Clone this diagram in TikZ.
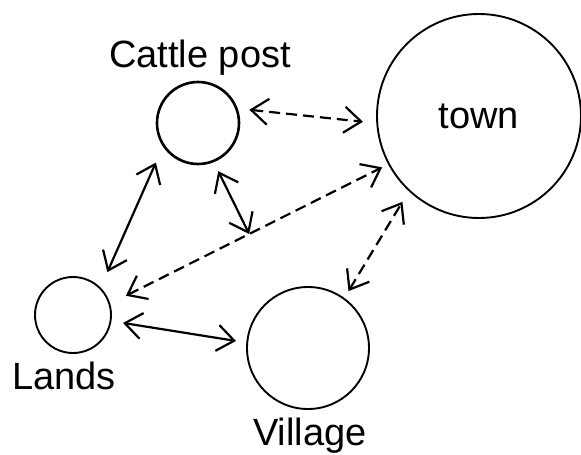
\documentclass[tikz,border=0pt]{standalone}
\usepackage{fontspec}
\setmainfont{Liberation Sans}
\usetikzlibrary{arrows.meta,calc}
\tikzset{
	spot/.style={draw, circle, inner sep=0pt, line width=1.9pt},
	road/.style={line width=2.2pt, {Straight Barb[length=17pt,width=26pt]}-{Straight Barb[length=17pt,width=26pt]}},
	track/.style={road, dash pattern=on 11pt off 6pt},
	placename/.style={anchor=base, font=\fontsize{38}{40}\selectfont}
}

\begin{document}
\begin{tikzpicture}[x=1pt,y=-1pt]
\useasboundingbox (0,0) rectangle (581,455);
% places
	\node[spot, minimum size=82pt, line width=2.6pt] (cattle) at (198,123) {};
	\node[spot, minimum size=204pt, font=\fontsize{38}{40}\selectfont] (town) at (479,116) {town};
	\node[spot, minimum size=76pt] (lands) at (73,315) {};
	\node[spot, minimum size=122pt] (village) at (308,348) {};
	\node[placename] (cattlename) at (200,67) {Cattle post};
	\node[placename] (landsname) at (64,389) {Lands};
	\node[placename] (villagename) at (310,445) {Village};
% links
	\coordinate (meet) at ($(lands.17)!0.5!(town.208)$);
	\draw[track, shorten <=11.7pt, shorten >=13.4pt] (cattle.20) -- (town.184);
	\draw[road, shorten <=17.4pt, shorten >=16.8pt] (cattle.214) -- (lands.45);
	\draw[road, shorten <=10pt] (cattle.-68) -- (meet);
	\draw[track, shorten <=17.5pt, shorten >=6.7pt] (lands.17) -- (town.208);
	\draw[road, shorten <=11.7pt, shorten >=10.4pt] (lands.-9) -- (village.175);
	\draw[track, shorten <=7.9pt, shorten >=12.3pt] (village.54) -- (town.227);
\end{tikzpicture}
\end{document}
